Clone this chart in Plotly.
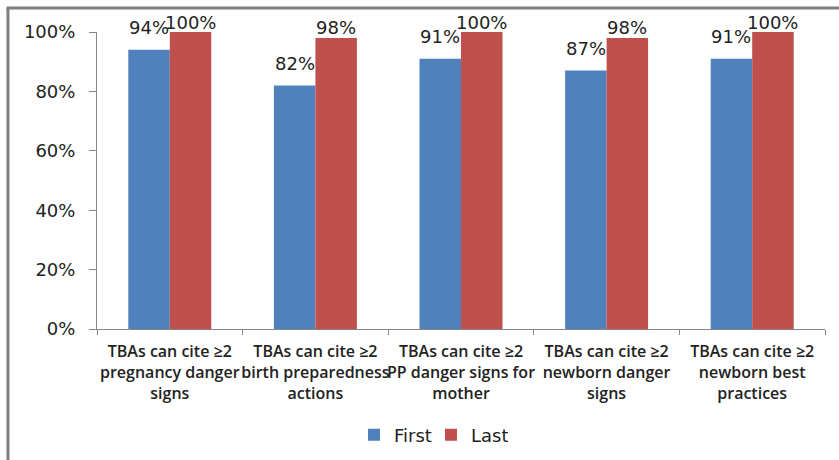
import plotly.graph_objects as go

# Indicators tracked across the TBA training sessions
categories = [
    "TBAs can cite ≥2<br>pregnancy danger<br>signs",
    "TBAs can cite ≥2<br>birth preparedness<br>actions",
    "TBAs can cite ≥2<br>PP danger signs for<br>mother",
    "TBAs can cite ≥2<br>newborn danger<br>signs",
    "TBAs can cite ≥2<br>newborn best<br>practices",
]
first_pct = [94, 82, 91, 87, 91]
last_pct = [100, 98, 100, 98, 100]

BLUE = "#4F81BD"
RED = "#C0504D"
AXIS = "#868686"
TEXT = "#222222"

first_vals = [v / 100 for v in first_pct]
last_vals = [v / 100 for v in last_pct]

fig = go.Figure()
fig.add_trace(go.Bar(name="First", x=categories, y=first_vals, marker_color=BLUE,
                     marker_line_width=0))
fig.add_trace(go.Bar(name="Last", x=categories, y=last_vals, marker_color=RED,
                     marker_line_width=0))

# value labels above each bar
bar_px = 41.5
annotations = []
for cat, v, p in zip(categories, first_vals, first_pct):
    annotations.append(dict(x=cat, y=v, xref="x", yref="y", text=f"{p}%",
                            showarrow=False, xshift=-bar_px / 2, yshift=22,
                            yanchor="middle",
                            font=dict(family="DejaVu Sans", size=18, color=TEXT)))
for cat, v, p in zip(categories, last_vals, last_pct):
    annotations.append(dict(x=cat, y=v, xref="x", yref="y", text=f"{p}%",
                            showarrow=False, xshift=bar_px / 2, yshift=10,
                            yanchor="middle",
                            font=dict(family="DejaVu Sans", size=18, color=TEXT)))

fig.update_layout(
    width=839, height=460,
    margin=dict(l=97, r=14, t=32, b=131, autoexpand=False),
    paper_bgcolor="white", plot_bgcolor="white",
    barmode="group", bargap=0.43, bargroupgap=0,
    annotations=annotations,
    showlegend=True,
    legend=dict(orientation="h", x=0.353, xanchor="left",
                yref="container", y=1 - 435 / 460, yanchor="middle",
                font=dict(family="DejaVu Sans", size=18, color=TEXT),
                entrywidth=32, entrywidthmode="pixels", traceorder="normal"),
    shapes=[
        dict(type="line", xref="paper", yref="paper", x0=-0.1223, x1=-0.1223,
             y0=-0.5, y1=1.0808, line=dict(color="#7f7f7f", width=3)),
        dict(type="line", xref="paper", yref="paper", x0=-0.1243, x1=1.05,
             y0=1.0808, y1=1.0808, line=dict(color="#7f7f7f", width=3)),
    ],
)
fig.update_yaxes(range=[0, 1], dtick=0.2, tickformat=".0%", showgrid=False,
                 zeroline=False, showline=True, linecolor=AXIS, linewidth=1,
                 ticks="outside", ticklen=7, tickcolor=AXIS, ticklabelstandoff=10,
                 automargin=False,
                 tickfont=dict(family="DejaVu Sans", size=18, color=TEXT))
fig.update_xaxes(showgrid=False, showline=True, linecolor=AXIS, linewidth=1,
                 ticks="outside", tickson="boundaries", ticklen=5, tickcolor=AXIS,
                 tickangle=0, ticklabelstandoff=8, automargin=False,
                 tickfont=dict(family="Open Sans", size=16, weight=600, color=TEXT))

fig.write_html("out.html")
